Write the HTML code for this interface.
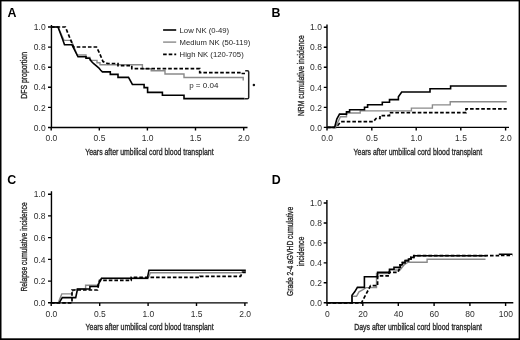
<!DOCTYPE html>
<html><head><meta charset="utf-8">
<style>
html,body{margin:0;padding:0;background:#fff;}
body{width:520px;height:340px;overflow:hidden;}
svg{display:block;will-change:transform;}
text{font-family:"Liberation Sans",sans-serif;}
.pl{font-weight:bold;font-size:12.4px;fill:#000;}
.tk{font-size:8.5px;fill:#2e2e2e;}
.ax{font-size:9.6px;fill:#2a2a2a;stroke:#2a2a2a;stroke-width:0.35px;}
.lg{font-size:7.7px;fill:#1e1e1e;}
.axis{stroke:#000;stroke-width:1.4;fill:none;}
.blk{stroke:#000;stroke-width:1.6;fill:none;}
.gry{stroke:#8a8a8a;stroke-width:1.4;fill:none;}
.dsh{stroke:#000;stroke-width:1.7;fill:none;stroke-dasharray:3.6,2;}
</style></head>
<body>
<svg width="520" height="340" viewBox="0 0 520 340">
<rect x="0" y="0" width="520" height="340" fill="#fff"/>
<!-- border -->
<rect x="0" y="0" width="520" height="1.4" fill="#000"/>
<rect x="0" y="0" width="1.5" height="340" fill="#000"/>
<rect x="518.6" y="0" width="1.4" height="340" fill="#000"/>
<rect x="0" y="338.3" width="520" height="1.7" fill="#000"/>

<!-- Panel letters -->
<text class="pl" x="7.4" y="16.6">A</text>
<text class="pl" x="271.6" y="16.5">B</text>
<text class="pl" x="7.3" y="184.2">C</text>
<text class="pl" x="271.7" y="184">D</text>

<!-- ============ PANEL A ============ -->
<g>
<path class="axis" d="M51.45,25 V127.5 H247.5"/>
<path class="axis" d="M48.0,27.0 H51.2 M48.0,47.1 H51.2 M48.0,67.2 H51.2 M48.0,87.3 H51.2 M48.0,107.4 H51.2 M48.0,127.5 H51.2"/>
<path class="axis" d="M51.2,127.5 V130.6 M99.3,127.5 V130.6 M147.4,127.5 V130.6 M195.5,127.5 V130.6 M243.7,127.5 V130.6"/>
<g class="tk" text-anchor="end">
<text x="45.7" y="30.15">1.0</text>
<text x="45.7" y="50.25">0.8</text>
<text x="45.7" y="70.35">0.6</text>
<text x="45.7" y="90.45">0.4</text>
<text x="45.7" y="110.55">0.2</text>
<text x="45.7" y="130.65">0.0</text>
</g>
<g class="tk" text-anchor="middle">
<text x="51.4" y="140.8">0.0</text><text x="99.5" y="140.8">0.5</text><text x="147.6" y="140.8">1.0</text>
<text x="195.7" y="140.8">1.5</text><text x="243.9" y="140.8">2.0</text>
</g>
<text class="ax" x="85.2" y="154.5" textLength="128.4" lengthAdjust="spacingAndGlyphs">Years after umbilical cord blood transplant</text>
<text class="ax" transform="translate(27.2,98.8) rotate(-90)" x="0" y="0" textLength="46.8" lengthAdjust="spacingAndGlyphs">DFS proportion</text>
<!-- curves -->
<path class="gry" d="M51,27 H58 L64,40.4 H71.3 L77.2,55 H86 V57.5 H90 V60.4 H97 V62.8 H100 V64.8 H142.4 V68.8 H151.2 V70.8 H165 V74 H184 V77.5 H243.2 V80.6"/>
<path class="dsh" d="M51,27 H65.4 L73.5,47 H96.5 L99,52 L103,61.5 L107.6,63.5 H118 V65.6 H131.8 V68.6 H199.7 V72.6 H242.4 V73.5 H245"/>
<path class="blk" d="M51,27 H58 L62.5,39 L64.5,44.8 H72 L78,56.8 H86 V58.3 H89.5 L91.3,61.2 L93.7,63.7 L95.8,65.3 L98.7,67.8 L100.7,70.3 L102.4,71.9 H110.3 V74.4 H118 V77.4 H128.5 L132.4,84.5 H144.1 V87.6 H147.6 V92.4 H162.4 V95.3 H184 V98.6 H244.5"/>
<!-- bracket -->
<path class="blk" d="M245.2,70.7 H247.4 Q248.7,70.7 248.7,72 V97.4 Q248.7,98.7 247.4,98.7 H244.5" style="stroke-width:1.5;stroke:#222"/>
<circle cx="253.9" cy="84.9" r="1.25" fill="#111"/>
<text class="tk" x="189.2" y="88" style="font-size:8px;fill:#222">p = 0.04</text>
<!-- legend -->
<path class="blk" d="M163.1,30 H176.2"/>
<path class="gry" d="M163.1,42.1 H176.2"/>
<path class="dsh" d="M163.1,54.4 H176.2"/>
<text class="lg" x="179.6" y="32.8">Low NK (0-49)</text>
<text class="lg" x="179.6" y="44.9">Medium NK (50-119)</text>
<text class="lg" x="179.6" y="56.9">High NK (120-705)</text>
</g>

<!-- ============ PANEL B ============ -->
<g>
<path class="axis" d="M327,24.5 V127.4 H509"/>
<path class="axis" d="M323.8,27.3 H327.0 M323.8,47.3 H327.0 M323.8,67.3 H327.0 M323.8,87.4 H327.0 M323.8,107.4 H327.0 M323.8,127.4 H327.0"/>
<path class="axis" d="M327,127.4 V130.4 M371.8,127.4 V130.4 M416.2,127.4 V130.4 M460.8,127.4 V130.4 M505.6,127.4 V130.4"/>
<g class="tk" text-anchor="end">
<text x="321.9" y="30.45">1.0</text>
<text x="321.9" y="50.47">0.8</text>
<text x="321.9" y="70.49">0.6</text>
<text x="321.9" y="90.51">0.4</text>
<text x="321.9" y="110.53">0.2</text>
<text x="321.9" y="130.55">0.0</text>
</g>
<g class="tk" text-anchor="middle">
<text x="327.2" y="140.8">0.0</text><text x="372" y="140.8">0.5</text><text x="416.4" y="140.8">1.0</text>
<text x="461" y="140.8">1.5</text><text x="505.8" y="140.8">2.0</text>
</g>
<text class="ax" x="353.6" y="154.5" textLength="128.5" lengthAdjust="spacingAndGlyphs">Years after umbilical cord blood transplant</text>
<text class="ax" transform="translate(303.6,116.1) rotate(-90)" x="0" y="0" textLength="80.8" lengthAdjust="spacingAndGlyphs">NRM cumulative incidence</text>
<path class="dsh" d="M327,127.4 H336 L341,121.6 H373.5 L376,118.5 H380 V115.6 H389.5 V112.6 H466 V108.9 H506.7"/>
<path class="gry" d="M327,127.4 H335.5 L340.4,116.8 H346.5 V113 H360.2 V110.9 H411.4 V108.1 H432.4 V104.9 H450.2 V101.8 H506.7"/>
<path class="blk" d="M327,127.4 H334.6 L336.8,119 L339.5,114.1 H346.5 V111.9 H349.6 V109.7 H364.5 V107.3 H367.6 V104.8 H382.3 V102.2 H389.5 V99.6 H398.4 V96.8 L401.7,92 H430 V88.7 H450.6 V86 H506.7"/>
</g>

<!-- ============ PANEL C ============ -->
<g>
<path class="axis" d="M51.45,191.2 V302.9 H247.7"/>
<path class="axis" d="M48.0,194.2 H51.2 M48.0,215.9 H51.2 M48.0,237.6 H51.2 M48.0,259.4 H51.2 M48.0,281.1 H51.2 M48.0,302.8 H51.2"/>
<path class="axis" d="M51.2,302.9 V306 M99.7,302.9 V306 M148.1,302.9 V306 M196.5,302.9 V306 M244.9,302.9 V306"/>
<g class="tk" text-anchor="end">
<text x="45.5" y="197.35">1.0</text>
<text x="45.5" y="219.07">0.8</text>
<text x="45.5" y="240.79">0.6</text>
<text x="45.5" y="262.51">0.4</text>
<text x="45.5" y="284.23">0.2</text>
<text x="45.5" y="305.95">0.0</text>
</g>
<g class="tk" text-anchor="middle">
<text x="51.4" y="317">0.0</text><text x="99.9" y="317">0.5</text><text x="148.3" y="317">1.0</text>
<text x="196.7" y="317">1.5</text><text x="245.1" y="317">2.0</text>
</g>
<text class="ax" x="85.6" y="329.9" textLength="128" lengthAdjust="spacingAndGlyphs">Years after umbilical cord blood transplant</text>
<text class="ax" transform="translate(27.3,291.5) rotate(-90)" x="0" y="0" textLength="89.2" lengthAdjust="spacingAndGlyphs">Relapse cumulative incidence</text>
<path class="gry" d="M51,302.8 H58.2 L61.8,293.9 H71.6 L73,290.6 L77.5,289 H85.6 V285.3 H97.3 L101.5,278.5 H148 L150.4,272.8 H241 L243.5,271.5 H246"/>
<path class="dsh" d="M51,302.8 H72 V290 H97.5 L99.5,280.4 H131.2 V277.3 H200 V276.3 H240.6 L242.5,272.3 H246"/>
<path class="blk" d="M51,302.8 H59.2 L62.3,297.6 H75.7 L77.5,289 H89.9 V286.5 H97.3 L101.5,278.3 H147.3 L149,270.2 H245.8"/>
</g>

<!-- ============ PANEL D ============ -->
<g>
<path class="axis" d="M326.9,200 V302.8 H513.3"/>
<path class="axis" d="M323.7,203.0 H326.9 M323.7,223.0 H326.9 M323.7,242.9 H326.9 M323.7,262.9 H326.9 M323.7,282.8 H326.9 M323.7,302.8 H326.9"/>
<path class="axis" d="M327.1,302.8 V306 M362.8,302.8 V306 M398.3,302.8 V306 M434.1,302.8 V306 M469.9,302.8 V306 M505.6,302.8 V306"/>
<g class="tk" text-anchor="end">
<text x="321.9" y="206.15">1.0</text>
<text x="321.9" y="226.11">0.8</text>
<text x="321.9" y="246.07">0.6</text>
<text x="321.9" y="266.03">0.4</text>
<text x="321.9" y="285.99">0.2</text>
<text x="321.9" y="305.95">0.0</text>
</g>
<g class="tk" text-anchor="middle">
<text x="327.3" y="317">0</text><text x="363" y="317">20</text><text x="398.5" y="317">40</text>
<text x="434.3" y="317">60</text><text x="470.1" y="317">80</text><text x="505.8" y="317">100</text>
</g>
<text class="ax" x="354.2" y="329.9" textLength="127.8" lengthAdjust="spacingAndGlyphs">Days after umbilical cord blood transplant</text>
<text class="ax" transform="translate(292.8,296) rotate(-90)" x="0" y="0" textLength="89.2" lengthAdjust="spacingAndGlyphs">Grade 2-4 aGVHD cumulative</text>
<text class="ax" transform="translate(303.5,266.3) rotate(-90)" x="0" y="0" textLength="29.7" lengthAdjust="spacingAndGlyphs">incidence</text>
<path class="gry" d="M327,302.8 H352 V296.3 H356.5 L359,291.8 L362.6,290 L366,287.6 H376.5 V273.5 H389.5 V270 H400 L404,265 L408,262.2 H427.1 V259.3 H485.5"/>
<path class="dsh" d="M327,302.8 H361.5 L370.6,285.6 H377.6 V275.9 H389 V272.4 H398 L400,267 V264.8 H402.4 V262.6 H405 V260.6 H408.5 V259 H411 V257.4 H413.8 V255.7 H499.5 V255.4 H512.4"/>
<path class="blk" d="M327,302.8 H352 V295.3 L354.7,291.8 L357.4,287.4 H364.4 V276.8 H377.6 V272.4 H389.5 V269.2 H394 V267.4 H400.4 V264.8 H402.4 V262.6 H405 V260.6 H408.5 V259 H411 V257.4 H413.8 V255.7 H486.5 M498.8,254.3 H512.4"/>
</g>
</svg>
</body></html>
